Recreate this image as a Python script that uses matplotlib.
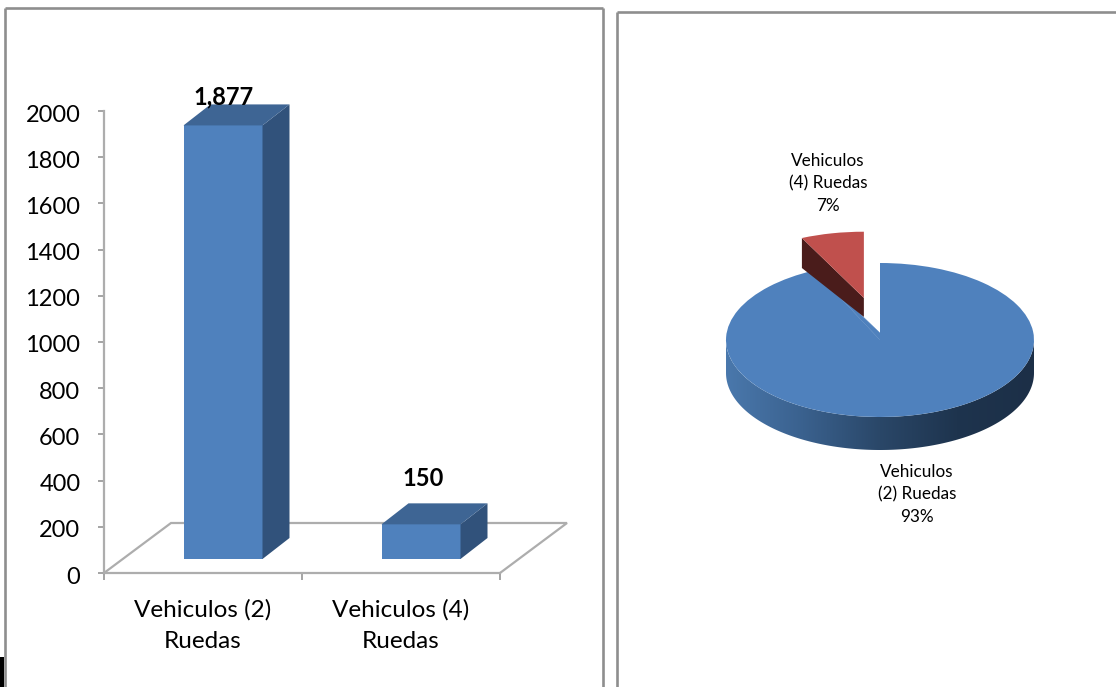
import numpy as np
import matplotlib
matplotlib.use("Agg")
import matplotlib.pyplot as plt
from matplotlib.lines import Line2D
from matplotlib.patches import Polygon, Rectangle, PathPatch
from matplotlib.path import Path
from matplotlib.transforms import Affine2D, ScaledTranslation

# ---- data ----
categories = ["Vehiculos (2)\nRuedas", "Vehiculos (4)\nRuedas"]
bar_values = [1877, 150]
bar_labels = ["1,877", "150"]
y_ticks = [0, 200, 400, 600, 800, 1000, 1200, 1400, 1600, 1800, 2000]
pie_names = ["Vehiculos\n(2) Ruedas\n93%", "Vehiculos\n(4) Ruedas\n7%"]
pie_shares = [93, 7]

W, H = 1116, 687
plt.rcParams["font.family"] = ["Lato", "DejaVu Sans"]
fig = plt.figure(figsize=(W / 100, H / 100), dpi=100, facecolor="white")


def px_axes(x0, y0, x1, y1):
    """Axes from pixel box (y measured from the top of the picture)."""
    return fig.add_axes([x0 / W, 1 - y1 / H, (x1 - x0) / W, (y1 - y0) / H])


def fig_line(xs, ys, **kw):
    fig.add_artist(Line2D([x / W for x in xs], [1 - y / H for y in ys],
                          transform=fig.transFigure, **kw))


# panel frames
frame = dict(color="#8E8E8E", lw=1.9, solid_capstyle="butt")
fig_line([5, 5], [8, 687], **frame)
fig_line([5, 603], [8, 8], **frame)
fig_line([603, 603], [8, 687], **frame)
fig_line([616.5, 616.5], [11.5, 687], **frame)
fig_line([616.5, 1116], [11.5, 11.5], **frame)
fig.add_artist(Rectangle((0, 0), 4 / W, 30 / H, transform=fig.transFigure,
                         color="black", lw=0))

# ---- bar chart ----
ax = px_axes(104, 111, 500, 573)
ax.set_xlim(-0.5, 1.5)
ax.set_ylim(0, 2000)
ax.patch.set_alpha(0)
ux = 396 / 2      # px per category
uy = 462 / 2000   # px per value
GREY = "#ADADAD"

# floor
floor_dx, floor_dy = 67 / ux, 50 / uy
ax.plot([-0.5, -0.5 + floor_dx, 1.5 + floor_dx, 1.5], [0, floor_dy, floor_dy, 0],
        color=GREY, lw=1.6, clip_on=False, zorder=1, solid_joinstyle="miter")

x = np.arange(len(categories))
off_x, off_y = 20 / ux, 14 / uy
bar_w = 79 / ux
dep_x, dep_y = 27 / ux, 21 / uy
for xi, v in zip(x, bar_values):
    cx = xi + off_x
    l, r = cx - bar_w / 2, cx + bar_w / 2
    b, t = off_y, off_y + v
    ax.bar(cx, v, width=bar_w, bottom=off_y, color="#4F81BD", zorder=3, clip_on=False)
    ax.add_patch(Polygon([(r, b), (r + dep_x, b + dep_y), (r + dep_x, t + dep_y), (r, t)],
                         closed=True, fc="#31527B", ec="none", zorder=3, clip_on=False))
    ax.add_patch(Polygon([(l, t), (l + dep_x, t + dep_y), (r + dep_x, t + dep_y), (r, t)],
                         closed=True, fc="#3E6594", ec="none", zorder=3, clip_on=False))

ax.text(x[0] + 21 / ux, bar_values[0] + 186, bar_labels[0], ha="center", va="center",
        fontsize=17, fontweight="bold", color="black", zorder=5, clip_on=False)
ax.text(x[1] + 22 / ux, bar_values[1] + 257, bar_labels[1], ha="center", va="center",
        fontsize=17, fontweight="bold", color="black", zorder=5, clip_on=False)

for s in ["top", "right"]:
    ax.spines[s].set_visible(False)
for s in ["left", "bottom"]:
    ax.spines[s].set_color(GREY)
    ax.spines[s].set_linewidth(1.6)
ax.set_yticks(y_ticks)
ax.tick_params(axis="y", length=4.5, width=1.1, color="#8C8C8C", labelsize=17, pad=12.5,
               labelcolor="black")
for lab in ax.get_yticklabels():
    lab.set_transform(lab.get_transform() + ScaledTranslation(0, -2 / 100, fig.dpi_scale_trans))
ax.set_xticks([-0.5, 0.5, 1.5])
ax.set_xticklabels([])
ax.tick_params(axis="x", which="major", length=5, width=1.1, color="#8C8C8C")
ax.set_xticks(x, minor=True)
ax.set_xticklabels(categories, minor=True, fontsize=17.5, linespacing=1.6)
ax.tick_params(axis="x", which="minor", length=0, pad=19, labelcolor="black")

# ---- pie chart ----
RX, RY = 154, 77
CX, CY = 880, 340
ax2 = px_axes(CX - 1.3 * RX, CY - 2 * RY, CX + 1.3 * RX, CY + 2 * RY)
explode = 0.48
red_r = 0.945
red_ky = 0.91
wedges, _ = ax2.pie(pie_shares, explode=[0, explode], startangle=90, counterclock=False,
                    colors=["#4F81BD", "#C0504D"], radius=1,
                    wedgeprops=dict(lw=0), normalize=True)
ax2.set_aspect("auto")
ax2.set_xlim(-1.3, 1.3)
ax2.set_ylim(-2, 2)
ax2.patch.set_alpha(0)

# blue rim with horizontal gradient
depth = 33 / RY
t = np.linspace(np.pi, 2 * np.pi, 200)
top_x, top_y = np.cos(t), np.sin(t)
verts = np.r_[np.c_[top_x, top_y - depth], np.c_[top_x[::-1], top_y[::-1]], [[-1, -depth]]]
codes = [Path.MOVETO] + [Path.LINETO] * (len(verts) - 2) + [Path.CLOSEPOLY]
rim = PathPatch(Path(verts, codes), fc="none", ec="none", transform=ax2.transData)
ax2.add_patch(rim)
grad_colors = matplotlib.colors.LinearSegmentedColormap.from_list(
    "rim", ["#4A78AC", "#3A618E", "#2A4768", "#1E344E", "#1C2F47"])
img = ax2.imshow(np.linspace(0, 1, 256)[None, :], extent=(-1, 1, -1 - depth, 0),
                 cmap=grad_colors, aspect="auto", zorder=0.5)
ax2.set_aspect("auto")
ax2.set_xlim(-1.3, 1.3)
ax2.set_ylim(-2, 2)
img.set_clip_path(rim)
wedges[0].set_zorder(1)

ang = np.deg2rad(pie_shares[1] / sum(pie_shares) * 360)
mid = ang / 2

# the notch apex sits a little above the ellipse centre
ax2.add_patch(Polygon([(-np.sin(ang), np.cos(ang)), (0, 7 / RY), (0, 0)], closed=True,
                      fc="#4F81BD", ec="#4F81BD", lw=0.3, zorder=1))

# exploded red slice, slightly smaller, with its dark cut face
ax_apex = -explode * np.sin(mid)
ay_apex = explode * np.cos(mid)
lift = 6 / RY
wedges[1].set_radius(red_r)
wedges[1].set_zorder(3)
wedges[1].set_transform(Affine2D().translate(-ax_apex, -ay_apex).scale(1, red_ky)
                        .translate(ax_apex, ay_apex + lift) + ax2.transData)
left_x = ax_apex - red_r * np.sin(ang)
left_y = ay_apex + lift + red_r * red_ky * np.cos(ang)
ax2.add_patch(Polygon([(left_x, left_y), (ax_apex, ay_apex + lift),
                       (ax_apex, ay_apex + lift - 19 / RY), (left_x, left_y - 30 / RY)],
                      closed=True, fc="#4A1C1B", ec="none", zorder=2))

ax2.text(37 / RX, -124 / RY, pie_names[0], ha="center", va="top", fontsize=12.3,
         linespacing=1.49, color="black", clip_on=False)
ax2.text(-52 / RX, 187 / RY, pie_names[1], ha="center", va="top", fontsize=12.3,
         linespacing=1.49, color="black", clip_on=False)

fig.savefig("out.png", dpi=100, facecolor="white")
